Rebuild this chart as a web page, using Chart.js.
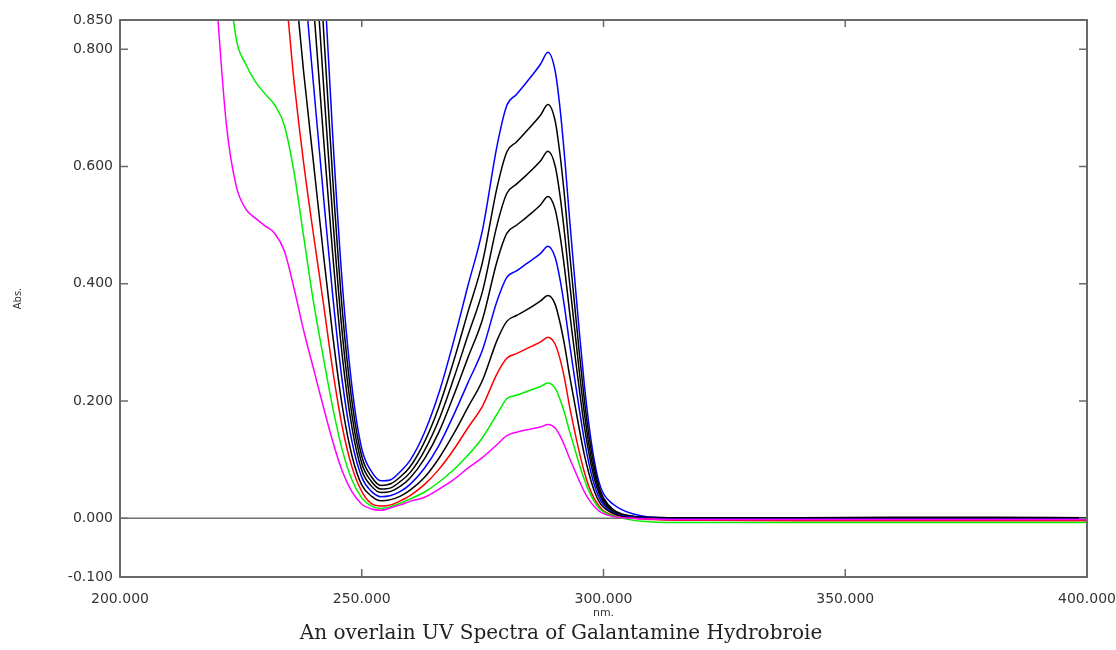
<!DOCTYPE html>
<html>
<head>
<meta charset="utf-8">
<title>UV spectra overlay</title>
<script src="https://cdn.jsdelivr.net/npm/chart.js@4.4.0/dist/chart.umd.min.js"></script>
<style>
  html, body { margin: 0; padding: 0; background: #fff; }
  #wrap { width: 1116px; height: 650px; }
</style>
</head>
<body>
<div id="wrap"><canvas id="chart" width="1116" height="650"></canvas></div>
<script>
// wavelength grid (nm) shared by every spectrum
const wavelengths = [218, 220, 222, 224, 226, 228, 230, 232, 234, 236, 238, 240, 242, 244, 246, 248, 250, 252, 254, 256,
  258, 260, 263, 266, 269, 272, 275, 278, 280, 282, 284, 287, 288.5, 290, 291, 292, 293, 294, 295, 296,
  297, 298, 299, 300, 302, 304, 306, 308, 310, 315, 320, 340, 360, 380, 400];

// absorbance (lowest to highest concentration)
const absMagenta = [1.12, 0.88, 0.672, 0.568, 0.528, 0.512, 0.499, 0.486, 0.456, 0.392,
  0.32, 0.256, 0.192, 0.131, 0.08, 0.045, 0.024, 0.016, 0.014, 0.018,
  0.023, 0.029, 0.036, 0.05, 0.066, 0.086, 0.104, 0.126, 0.141, 0.147,
  0.151, 0.156, 0.16, 0.154, 0.141, 0.123, 0.102, 0.083, 0.064, 0.046,
  0.032, 0.021, 0.013, 0.008, 0.003, 0.001, 0, -0.001, -0.001, -0.002,
  -0.002, -0.002, -0.002, -0.002, -0.002];
const absGreen = [1.617, 1.27, 0.97, 0.82, 0.775, 0.745, 0.724, 0.705, 0.67, 0.59,
  0.48, 0.37, 0.277, 0.189, 0.116, 0.065, 0.035, 0.021, 0.017, 0.02,
  0.026, 0.033, 0.045, 0.062, 0.083, 0.108, 0.138, 0.178, 0.204, 0.21,
  0.216, 0.225, 0.231, 0.222, 0.203, 0.178, 0.148, 0.12, 0.092, 0.067,
  0.046, 0.03, 0.018, 0.011, 0.004, 0, -0.003, -0.005, -0.006, -0.007,
  -0.007, -0.007, -0.007, -0.007, -0.007];
const absRed = [2.163, 1.7, 1.298, 1.097, 1.02, 0.989, 0.964, 0.95, 0.91, 0.745,
  0.605, 0.485, 0.371, 0.253, 0.155, 0.087, 0.046, 0.025, 0.021, 0.023,
  0.03, 0.039, 0.058, 0.084, 0.117, 0.155, 0.192, 0.247, 0.273, 0.281,
  0.289, 0.301, 0.309, 0.297, 0.272, 0.236, 0.19, 0.15, 0.113, 0.08,
  0.054, 0.035, 0.022, 0.013, 0.005, 0.001, 0, -0.001, -0.002, -0.003,
  -0.003, -0.004, -0.004, -0.004, -0.004];
const absBlack1 = [2.66, 2.09, 1.596, 1.349, 1.254, 1.216, 1.186, 1.155, 1.083, 0.931,
  0.76, 0.608, 0.456, 0.312, 0.19, 0.106, 0.057, 0.038, 0.03, 0.032,
  0.038, 0.048, 0.07, 0.103, 0.144, 0.19, 0.236, 0.304, 0.336, 0.346,
  0.355, 0.371, 0.38, 0.365, 0.334, 0.293, 0.243, 0.198, 0.152, 0.11,
  0.076, 0.049, 0.03, 0.019, 0.008, 0.003, 0.001, 0, -0.001, -0.002,
  -0.002, -0.002, -0.002, -0.002, -0.002];
const absBlue1 = [3.248, 2.552, 1.949, 1.647, 1.531, 1.485, 1.448, 1.411, 1.322, 1.137,
  0.928, 0.742, 0.557, 0.38, 0.232, 0.13, 0.07, 0.046, 0.037, 0.039,
  0.046, 0.058, 0.086, 0.125, 0.176, 0.232, 0.288, 0.371, 0.411, 0.422,
  0.434, 0.452, 0.464, 0.445, 0.408, 0.357, 0.297, 0.241, 0.186, 0.135,
  0.093, 0.06, 0.037, 0.023, 0.009, 0.004, 0.002, 0.001, 0, -0.001,
  -0.001, -0.001, -0.001, -0.001, -0.001];
const absBlack2 = [3.843, 3.02, 2.306, 1.949, 1.812, 1.757, 1.713, 1.669, 1.565, 1.345,
  1.098, 0.878, 0.659, 0.45, 0.275, 0.154, 0.082, 0.055, 0.044, 0.046,
  0.055, 0.069, 0.102, 0.148, 0.209, 0.275, 0.34, 0.439, 0.486, 0.5,
  0.513, 0.535, 0.549, 0.527, 0.483, 0.423, 0.351, 0.285, 0.22, 0.159,
  0.11, 0.071, 0.044, 0.027, 0.011, 0.004, 0.002, 0.001, 0, 0,
  0, 0, 0, 0, 0];
const absBlack3 = [4.382, 3.443, 2.629, 2.222, 2.066, 2.003, 1.953, 1.903, 1.784, 1.534,
  1.252, 1.002, 0.751, 0.513, 0.313, 0.175, 0.094, 0.063, 0.05, 0.052,
  0.063, 0.078, 0.116, 0.169, 0.238, 0.313, 0.388, 0.501, 0.554, 0.57,
  0.585, 0.61, 0.626, 0.601, 0.551, 0.482, 0.401, 0.326, 0.25, 0.182,
  0.125, 0.081, 0.05, 0.031, 0.013, 0.006, 0.003, 0.002, 0.001, 0.001,
  0.001, 0.001, 0.001, 0.001, 0.001];
const absBlack4 = [4.942, 3.883, 2.965, 2.506, 2.33, 2.259, 2.203, 2.146, 2.012, 1.73,
  1.412, 1.13, 0.847, 0.579, 0.353, 0.198, 0.106, 0.071, 0.056, 0.059,
  0.071, 0.088, 0.131, 0.191, 0.268, 0.353, 0.438, 0.565, 0.625, 0.642,
  0.66, 0.688, 0.706, 0.678, 0.621, 0.544, 0.452, 0.367, 0.282, 0.205,
  0.141, 0.092, 0.056, 0.035, 0.015, 0.007, 0.004, 0.002, 0.002, 0.001,
  0.001, 0.001, 0.002, 0.002, 0.001];
const absBlue2 = [5.565, 4.373, 3.339, 2.822, 2.624, 2.544, 2.48, 2.417, 2.266, 1.948,
  1.59, 1.272, 0.954, 0.652, 0.398, 0.223, 0.119, 0.08, 0.064, 0.066,
  0.08, 0.099, 0.147, 0.215, 0.302, 0.398, 0.493, 0.636, 0.704, 0.723,
  0.743, 0.775, 0.795, 0.763, 0.7, 0.612, 0.509, 0.413, 0.318, 0.231,
  0.159, 0.103, 0.064, 0.042, 0.024, 0.014, 0.008, 0.004, 0.002, 0.001,
  0.001, 0.001, 0.001, 0.001, 0.001];

const seriesList = [absMagenta, absGreen, absRed, absBlack1, absBlue1, absBlack2, absBlack3, absBlack4, absBlue2];
const seriesColors = ["#ff00ff", "#00ee00", "#ff0000", "#000000", "#0000ff", "#000000", "#000000", "#000000", "#0000ff"];

const xTicks = [200, 250, 300, 350, 400];
const yTicks = [-0.1, 0, 0.2, 0.4, 0.6, 0.8, 0.85];

const CAPTION = "An overlain UV Spectra of Galantamine Hydrobroie";
const FRAME_COLOR = "#6a6a6a";
const LABEL_COLOR = "#333333";

// frame, inward tick marks, the zero line and the caption under the plot
const framePlugin = {
    id: "frame",
    beforeDatasetsDraw(chart) {
        const { ctx, chartArea: a, scales: { y } } = chart;
        const y0 = y.getPixelForValue(0);
        ctx.save();
        ctx.strokeStyle = "#707070";
        ctx.lineWidth = 1.5;
        ctx.beginPath();
        ctx.moveTo(a.left, y0);
        ctx.lineTo(a.right, y0);
        ctx.stroke();
        ctx.restore();
    },
    afterDatasetsDraw(chart) {
        const { ctx, chartArea: a, scales: { x, y } } = chart;
        ctx.save();
        ctx.strokeStyle = FRAME_COLOR;
        ctx.lineWidth = 2;
        ctx.strokeRect(a.left, a.top, a.right - a.left, a.bottom - a.top);
        ctx.lineWidth = 1.5;
        ctx.beginPath();
        xTicks.forEach((v) => {
            const px = x.getPixelForValue(v);
            ctx.moveTo(px, a.bottom);
            ctx.lineTo(px, a.bottom - 8);
            ctx.moveTo(px, a.top);
            ctx.lineTo(px, a.top + 7);
        });
        yTicks.forEach((v) => {
            const py = y.getPixelForValue(v);
            ctx.moveTo(a.left, py);
            ctx.lineTo(a.left + 8, py);
            ctx.moveTo(a.right, py);
            ctx.lineTo(a.right - 8, py);
        });
        ctx.stroke();
        ctx.restore();
    },
    afterDraw(chart) {
        const { ctx } = chart;
        ctx.save();
        ctx.fillStyle = "#222222";
        ctx.font = "20px 'DejaVu Serif'";
        ctx.textAlign = "center";
        ctx.textBaseline = "middle";
        ctx.fillText(CAPTION, 561, 634);
        ctx.restore();
    },
};

const datasets = seriesList.map((values, i) => ({
    data: wavelengths.map((w, j) => ({ x: w, y: values[j] })),
    borderColor: seriesColors[i],
    borderWidth: 1.5,
    pointRadius: 0,
    fill: false,
    cubicInterpolationMode: "monotone",
}));

const tickFont = { family: "DejaVu Sans", size: 14 };

new Chart(document.getElementById("chart"), {
    type: "line",
    data: { datasets },
    plugins: [framePlugin],
    options: {
        responsive: false,
        animation: false,
        devicePixelRatio: 1,
        layout: { padding: { left: 0, top: 20, right: 29, bottom: 30 } },
        plugins: {
            legend: { display: false },
            tooltip: { enabled: false },
            title: { display: false },
        },
        scales: {
            x: {
                type: "linear",
                min: 200,
                max: 400,
                grid: { display: false },
                border: { display: false },
                afterBuildTicks: (scale) => {
                    scale.ticks = xTicks.map((v) => ({ value: v }));
                },
                afterFit: (scale) => {
                    scale.height = 43;
                    scale.paddingLeft = 0;
                    scale.paddingRight = 0;
                },
                ticks: {
                    autoSkip: false,
                    maxRotation: 0,
                    padding: 6,
                    color: LABEL_COLOR,
                    font: tickFont,
                    callback: (v) => Number(v).toFixed(3),
                },
                title: {
                    display: true,
                    text: "nm.",
                    color: LABEL_COLOR,
                    font: { family: "DejaVu Sans", size: 11 },
                    padding: { top: 0, bottom: 0 },
                },
            },
            y: {
                min: -0.1,
                max: 0.85,
                grid: { display: false },
                border: { display: false },
                afterBuildTicks: (scale) => {
                    scale.ticks = yTicks.map((v) => ({ value: v }));
                },
                afterFit: (scale) => {
                    scale.width = 120;
                    scale.paddingTop = 0;
                    scale.paddingBottom = 0;
                },
                ticks: {
                    autoSkip: false,
                    padding: -1,
                    color: LABEL_COLOR,
                    font: tickFont,
                    callback: (v) => Number(v).toFixed(3),
                },
                title: {
                    display: true,
                    text: "Abs.",
                    color: LABEL_COLOR,
                    font: { family: "DejaVu Sans", size: 10 },
                    padding: { top: 12, bottom: 0 },
                },
            },
        },
    },
});
</script>
</body>
</html>
